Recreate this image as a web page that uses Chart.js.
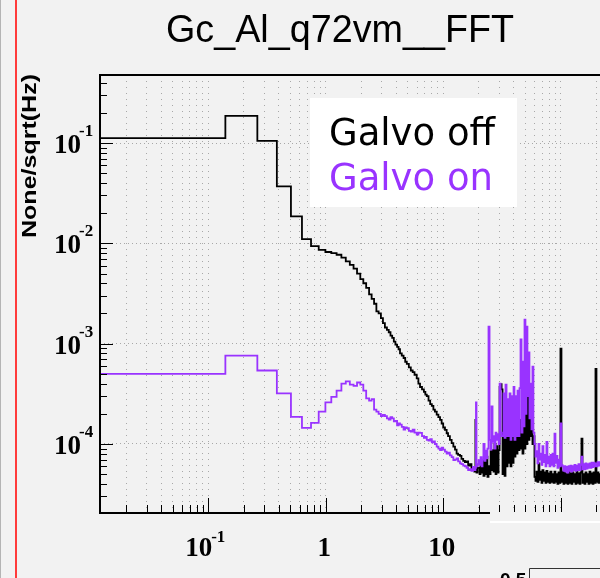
<!DOCTYPE html>
<html><head><meta charset="utf-8">
<script src="https://cdn.jsdelivr.net/npm/chart.js@4.4.1/dist/chart.umd.min.js"></script>
<style>html,body{margin:0;padding:0;background:#f2f2f2;overflow:hidden}canvas{display:block}</style>
</head><body><canvas id="c" width="600" height="578"></canvas>
<script>
const chartTitle = 'Gc_Al_q72vm__FFT';
const yAxisTitle = 'None/sqrt(Hz)';
const seriesNames = ['Galvo off', 'Galvo on'];

const freq = [
 0.012,0.140,0.262,0.384,0.506,0.628,0.750,0.872,0.994,1.116,
 1.238,1.360,1.482,1.604,1.726,1.848,1.970,2.09,2.21,2.34,
 2.46,2.58,2.70,2.82,2.95,3.07,3.19,3.32,3.44,3.56,
 3.68,3.80,3.92,4.05,4.17,4.29,4.44,4.6,4.75,4.9,
 5.1,5.3,5.5,5.7,5.95,6.15,6.35,6.6,6.85,7.05,
 7.25,7.5,7.75,8.0,8.25,8.5,8.8,9.1,9.4,9.7,
 10.0,10.35,10.7,11.0,11.4,11.8,12.2,12.6,13.0,13.4,
 13.9,14.3,14.8,15.3,15.8,16.3,16.9,17.4,17.9,18.4,
 18.8,19.0,19.2,19.6,
 20.0,20.4,20.8,21.2,21.6,22.0,22.5,22.9,23.4,23.8,
 24.3,24.8,25.3,25.8,26.3,26.8,27.3,27.9,28.4,29.0,
 29.6,30.2,30.8,31.4,32.0,32.6,33.3,33.9,34.6,35.3,
 36.0,36.7,37.4,38.1,38.9,39.7,40.4,41.2,42.1,42.9,
 43.7,44.6,45.5,46.4,47.3,48.2,49.2,50.1,51.1,52.1,
 53.2,54.2,55.3,56.4,57.5,58.6,59.8,61.0,62.2,63.4,
 64.7,65.9,67.2,68.6,69.9,71.3,72.7,74.2,75.6,77.1,
 78.7,80.2,81.8,83.4,85.1,86.8,88.5,90.2,92.0,93.8,
 95.7,97.6,99.5,101.5,103.5,105.5,107.6,109.8,111.9,114.2,
 116.4,118.7,121.1,123.5,125.9,128.4,130.9,133.5,136.2,138.9,
 141.6,144.4,147.3,150.2,153.2,156.2,159.3,162.5,165.7,169.0,
 172.3,175.7,179.2,182.8,186.4,190.1,193.8,197.7,201.6,205.6,
 209.6,213.8,218.0
];

const galvoOff = [
 0.112,0.186,0.105,0.037,0.0186,0.011,0.0094,0.0086,0.0082,0.0080,
 0.0077,0.0072,0.0066,0.0061,0.0056,0.0050,0.0044,0.0040,0.0036,0.0031,
 0.0028,0.0025,0.0021,0.0020,0.0018,0.0016,0.00145,0.00137,0.0013,0.0012,
 0.00114,0.00105,0.00098,0.00093,0.00088,0.0008,0.00076,0.00072,0.00066,0.00063,
 0.00058,0.00054,0.00052,0.00049,0.00045,0.0004,0.00037,0.00035,0.00033,0.00031,
 0.0003,0.00027,0.00025,0.00024,0.00022,0.00021,0.000196,0.000185,0.000174,0.00016,
 0.000146,0.000138,0.000128,0.00012,0.00011,0.000102,0.000094,0.000088,0.00008,0.000078,
 0.000076,0.000071,0.000068,0.000066,0.000067,0.000061,0.000063,0.000057,0.000058,0.000053,
 0.000174,0.00006,0.000052,0.000058,
 5.8e-5,5.0e-5,6.6e-5,5.2e-5,6.9e-5,4.8e-5,7.2e-5,5.0e-5,7.5e-5,4.7e-5,
 6.0e-5,5.0e-5,8.5e-5,5.5e-5,8.7e-5,5.3e-5,1.0e-4,5.0e-5,9.5e-5,5.2e-5,
 8.7e-5,3.7e-4,3.96e-4,3.5e-4,5.0e-5,1.4e-4,4.8e-5,1.5e-4,6.0e-5,1.74e-4,
 6.5e-5,1.38e-4,6.0e-5,1.4e-4,6.5e-5,2.18e-4,7.5e-5,2.0e-4,8.0e-5,1.6e-4,
 8.7e-5,1.74e-4,9.0e-5,1.5e-4,8.0e-5,1.74e-4,9.0e-5,3.2e-4,1.0e-4,3.0e-4,
 1.1e-4,3.7e-4,1.2e-4,2.4e-4,1.0e-4,1.2e-4,4.7e-5,4.3e-5,5.3e-5,4.2e-5,
 6.4e-5,4.4e-5,5.3e-5,4.1e-5,5.5e-5,4.3e-5,5.2e-5,4.1e-5,5.4e-5,4.2e-5,
 5.1e-5,4.1e-5,5.3e-5,4.2e-5,5.0e-5,4.1e-5,5.3e-5,4.2e-5,5.0e-5,4.0e-5,
 5.2e-5,4.1e-5,8.9e-4,4.2e-5,5.3e-5,4.0e-5,5.2e-5,4.1e-5,5.0e-5,4.0e-5,
 5.3e-5,4.1e-5,5.1e-5,4.0e-5,5.2e-5,4.2e-5,5.0e-5,4.0e-5,5.3e-5,4.1e-5,
 5.1e-5,4.0e-5,5.2e-5,1.13e-4,4.1e-5,5.0e-5,4.0e-5,5.2e-5,4.2e-5,5.0e-5,
 4.0e-5,5.3e-5,4.1e-5,5.1e-5,4.0e-5,5.2e-5,4.1e-5,5.6e-4,4.2e-5,5.2e-5,
 4.1e-5,5.0e-5,4.2e-5
];

const galvoOn = [
 0.0005,0.00076,0.00054,0.00032,0.000186,0.000145,0.000162,0.00021,0.00026,0.000295,
 0.00034,0.0004,0.00042,0.00039,0.00038,0.00041,0.00039,0.00034,0.000285,0.00027,
 0.00028,0.00022,0.00021,0.0002,0.00019,0.000195,0.00019,0.00018,0.000175,0.000185,
 0.00018,0.000168,0.00017,0.000153,0.00016,0.000156,0.000148,0.000139,0.000146,0.000144,
 0.000135,0.000133,0.000139,0.00013,0.000124,0.00013,0.000129,0.00012,0.000115,0.000118,
 0.00011,0.000108,0.000112,0.000104,0.000106,0.0001,0.000094,0.00009,0.000087,0.000092,
 0.000088,0.000084,0.00008,0.000082,0.000077,0.000074,0.000069,0.00007,0.000072,0.000067,
 0.000064,0.000063,0.000061,0.00006,0.000058,0.000055,0.000056,0.000054,0.000059,0.000055,
 0.000058,0.00026,0.00006,0.000063,
 6.9e-5,6.2e-5,7.4e-5,6.0e-5,7.0e-5,1.0e-4,6.8e-5,8.6e-5,7.2e-5,9.0e-5,
 1.48e-3,1.1e-4,8.8e-5,2.37e-4,1.05e-4,1.2e-4,9.0e-5,1.3e-4,1.1e-4,1.25e-4,
 1.0e-4,4.0e-4,1.3e-4,1.2e-4,1.2e-4,3.2e-4,1.15e-4,3.9e-4,1.2e-4,2.8e-4,
 1.2e-4,3.2e-4,1.1e-4,3.0e-4,1.2e-4,3.7e-4,1.1e-4,3.0e-4,1.2e-4,3.4e-4,
 1.2e-4,3.6e-4,1.1e-3,1.3e-4,6.6e-4,1.5e-4,1.74e-3,2.0e-4,1.48e-3,3.0e-4,
 8.2e-4,1.8e-4,4.0e-4,1.4e-4,5.9e-4,1.3e-4,1.0e-4,7.5e-5,8.5e-5,6.4e-5,
 1.0e-4,7.0e-5,8.0e-5,6.2e-5,9.5e-5,6.6e-5,7.8e-5,6.0e-5,1.05e-4,6.4e-5,
 7.5e-5,6.0e-5,7.8e-5,6.2e-5,8.0e-5,6.0e-5,1.27e-4,6.5e-5,7.6e-5,5.8e-5,
 7.0e-5,6.0e-5,1.6e-4,6.2e-5,6.0e-5,5.4e-5,6.0e-5,5.3e-5,5.9e-5,5.2e-5,
 6.0e-5,5.4e-5,6.1e-5,5.3e-5,6.0e-5,5.5e-5,6.2e-5,5.4e-5,6.1e-5,5.5e-5,
 6.3e-5,5.5e-5,6.2e-5,7.5e-5,5.6e-5,6.3e-5,5.6e-5,6.4e-5,5.7e-5,6.3e-5,
 5.8e-5,6.4e-5,5.8e-5,6.5e-5,5.9e-5,6.5e-5,6.0e-5,6.4e-5,6.0e-5,6.6e-5,
 6.1e-5,6.6e-5,6.2e-5
];

const xRange = [0.012, 216];
const yRange = [2.052e-5, 0.4763];
const xTickValues = [0.1, 1, 10];
const xTickBase = ['10', '1', '10'];
const xTickExp = ['-1', '', ''];
const yTickValues = [0.1, 0.01, 0.001, 0.0001];
const yTickBase = ['10', '10', '10', '10'];
const yTickExp = ['-1', '-2', '-3', '-4'];

const BG = '#f2f2f2';
const PURPLE = '#9933ff';

function isDecade(v){ const l = Math.log10(v); return Math.abs(l - Math.round(l)) < 1e-6; }
function logTicks(min, max){
  const out = [];
  for (let e = Math.floor(Math.log10(min)); e <= Math.ceil(Math.log10(max)); e++) {
    for (let k = 1; k < 10; k++) {
      const v = +(k * Math.pow(10, e)).toPrecision(6);
      if (v >= min * 0.9999 && v <= max * 1.0001) out.push(v);
    }
  }
  return out;
}

const deco = {
  id: 'deco',
  beforeDraw(chart){
    const c = chart.ctx;
    c.save(); c.fillStyle = BG; c.fillRect(0, 0, chart.width, chart.height); c.restore();
  },
  afterDraw(chart){
    const c = chart.ctx, xs = chart.scales.x, ys = chart.scales.y, a = chart.chartArea;
    c.save();
    c.strokeStyle = '#000'; c.lineWidth = 1;
    xs.ticks.forEach(t => {
      const px = Math.round(xs.getPixelForValue(t.value)) + 0.5;
      const len = isDecade(t.value) ? 15 : 8;
      c.beginPath(); c.moveTo(px, a.bottom); c.lineTo(px, a.bottom - len); c.stroke();
    });
    ys.ticks.forEach(t => {
      const py = Math.round(ys.getPixelForValue(t.value)) + 0.5;
      const len = isDecade(t.value) ? 13 : 7;
      c.beginPath(); c.moveTo(a.left, py); c.lineTo(a.left + len, py); c.stroke();
    });
    c.lineWidth = 2;
    c.beginPath();
    c.moveTo(a.right, a.top); c.lineTo(a.left, a.top); c.lineTo(a.left, a.bottom); c.lineTo(a.right, a.bottom);
    c.stroke();

    c.fillStyle = '#000'; c.textBaseline = 'alphabetic';
    yTickValues.forEach((v, i) => {
      const py = ys.getPixelForValue(v);
      c.font = 'bold 27px "Liberation Serif"'; c.textAlign = 'right';
      c.fillText(yTickBase[i], 81, py + 10);
      c.font = 'bold 17px "Liberation Serif"'; c.textAlign = 'left';
      c.fillText(yTickExp[i], 79, py - 7);
    });
    xTickValues.forEach((v, i) => {
      const px = xs.getPixelForValue(v);
      c.font = 'bold 27px "Liberation Serif"';
      if (xTickExp[i]) {
        c.textAlign = 'right'; c.fillText(xTickBase[i], px + 4, 556);
        c.font = 'bold 17px "Liberation Serif"'; c.textAlign = 'left';
        c.fillText(xTickExp[i], px + 3, 542);
      } else {
        c.textAlign = 'center'; c.fillText(xTickBase[i], px - 1.5, 556);
      }
    });

    c.font = '39px "Liberation Sans"'; c.textAlign = 'center';
    let w = c.measureText(chartTitle).width;
    c.save(); c.translate(340, 42); c.scale(348 / w, 1); c.fillText(chartTitle, 0, 0); c.restore();

    c.font = 'bold 21px "Liberation Sans"';
    w = c.measureText(yAxisTitle).width;
    c.save(); c.translate(36, 156); c.rotate(-Math.PI / 2); c.scale(164 / w, 1);
    c.textAlign = 'center'; c.fillText(yAxisTitle, 0, 0); c.restore();

    c.fillStyle = '#ffffff'; c.fillRect(310, 98, 207, 109);
    c.font = '37px "DejaVu Sans"'; c.textAlign = 'left';
    c.fillStyle = '#000'; c.fillText(seriesNames[0], 329, 145);
    c.fillStyle = PURPLE; c.fillText(seriesNames[1], 329, 190);

    c.fillStyle = '#b4b4b4'; c.fillRect(0, 0, 1, chart.height);
    c.fillStyle = '#ff3b3b'; c.fillRect(15, 0, 2, chart.height);

    c.fillStyle = BG; c.fillRect(490, 512, chart.width - 490, chart.height - 512);
    c.fillStyle = '#ffffff'; c.fillRect(490, 521, chart.width - 490, 2);
    c.strokeStyle = '#333'; c.lineWidth = 1;
    c.beginPath(); c.moveTo(529.5, chart.height); c.lineTo(529.5, 568.5); c.lineTo(chart.width, 568.5); c.stroke();
    c.fillStyle = '#000'; c.font = 'bold 19px "Liberation Sans"'; c.textAlign = 'left';
    c.fillText('0.5', 500, 586);
    c.restore();
  }
};

new Chart(document.getElementById('c').getContext('2d'), {
  type: 'line',
  data: {
    datasets: [
      { label: seriesNames[0], data: freq.map((f, i) => ({ x: f, y: galvoOff[i] })),
        borderColor: '#000000', borderWidth: 1.8, stepped: 'before', pointRadius: 0, fill: false, order: 2 },
      { label: seriesNames[1], data: freq.map((f, i) => ({ x: f, y: galvoOn[i] })),
        borderColor: PURPLE, borderWidth: 1.8, stepped: 'before', pointRadius: 0, fill: false, order: 1 }
    ]
  },
  options: {
    responsive: false, animation: false, devicePixelRatio: 1,
    layout: { padding: { left: 0, right: 0, top: 75, bottom: 0 } },
    plugins: { legend: { display: false }, tooltip: { enabled: false }, title: { display: false } },
    scales: {
      x: {
        type: 'logarithmic', position: 'bottom', min: xRange[0], max: xRange[1], bounds: 'data',
        afterBuildTicks: s => { s.ticks = logTicks(xRange[0], xRange[1]).map(v => ({ value: v })); },
        afterFit: s => { s.height = 65; },
        ticks: { display: false },
        grid: { color: '#a8a8a8', lineWidth: 1, drawTicks: false },
        border: { display: false, dash: [1, 5] }
      },
      y: {
        type: 'logarithmic', position: 'left', min: yRange[0], max: yRange[1], bounds: 'data',
        afterBuildTicks: s => { s.ticks = logTicks(yRange[0], yRange[1]).map(v => ({ value: v })); },
        afterFit: s => { s.width = 100; },
        ticks: { display: false },
        grid: { color: c => (c.tick && isDecade(c.tick.value)) ? '#a8a8a8' : 'rgba(0,0,0,0)', lineWidth: 1, drawTicks: false },
        border: { display: false, dash: [1, 3] }
      }
    }
  },
  plugins: [deco]
});
</script>
</body></html>
